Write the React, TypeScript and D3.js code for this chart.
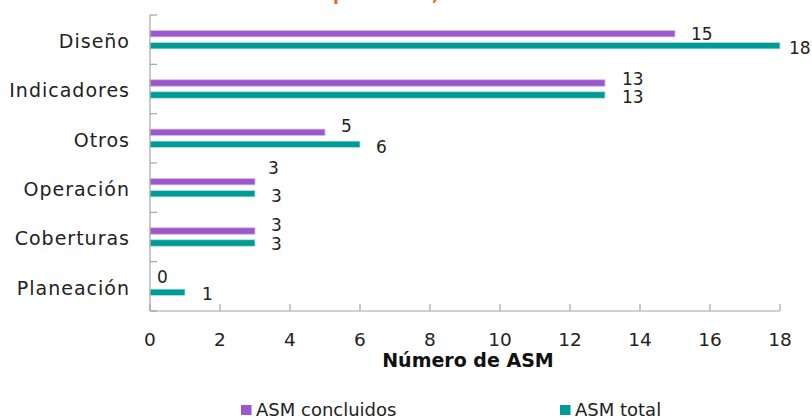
import React from "react";
import * as d3 from "d3";

const categories = ["Diseño", "Indicadores", "Otros", "Operación", "Coberturas", "Planeación"];
const concluidos = [15, 13, 5, 3, 3, 0];
const total = [18, 13, 6, 3, 3, 1];
const xTicks = [0, 2, 4, 6, 8, 10, 12, 14, 16, 18];
const seriesNames = ["ASM concluidos", "ASM total"];
const titleText = "Número de ASM por tema, 2016 - 2017";
const axisTitle = "Número de ASM";

// label nudges (layout only): [dx, dy] per category for each series
const nudgeConcl = [[17, 0], [18, -4.5], [17, -6], [14, -14], [17, -6], [8, -3]];
const nudgeTotal = [[10, 2], [18, 1.5], [17, 2.5], [17, 2], [17, 1], [18, 2]];

const W = 812, H = 418;
const FONT = "'DejaVu Sans', sans-serif";
const PURPLE = "#9B57CB";
const TEAL = "#009B95";
const AXIS = "#a6a6a6";

export default function App() {
  const x = d3.scaleLinear().domain([0, 18]).range([150, 780]);
  const y = d3.scaleBand<string>().domain(categories).range([15, 311]);
  const bw = y.bandwidth();
  const barH = 6.5;
  const off = 6;
  const boundaries = d3.range(categories.length + 1).map((i) => 15 + i * bw);

  return (
    <svg width={W} height={H} style={{ position: "absolute", left: 0, top: 0, background: "#fff" }} fontFamily={FONT}>
      <text x={365} y={-0.5} textAnchor="middle" fontSize={17} fontWeight="bold" fill="#E07020" letterSpacing={1.5}>{titleText}</text>
      {/* bars */}
      {categories.map((c, i) => {
        const cy = (y(c) as number) + bw / 2;
        return (
          <g key={c}>
            {concluidos[i] > 0 && (
              <rect x={x(0)} y={cy - off - barH / 2} width={x(concluidos[i]) - x(0)} height={barH} fill={PURPLE} stroke="#d6bfee" strokeWidth={0.8} />
            )}
            {total[i] > 0 && (
              <rect x={x(0)} y={cy + off - barH / 2} width={x(total[i]) - x(0)} height={barH} fill={TEAL} stroke="#b9e3e1" strokeWidth={0.8} />
            )}
            <text x={x(concluidos[i]) + nudgeConcl[i][0] - 1} y={cy - off + nudgeConcl[i][1]} dy="0.36em" fontSize={17} fill="#222">{concluidos[i]}</text>
            <text x={x(total[i]) + nudgeTotal[i][0] - 1} y={cy + off + nudgeTotal[i][1]} dy="0.36em" fontSize={17} fill="#222">{total[i]}</text>
            <text x={130} y={cy + 1.5} dy="0.36em" textAnchor="end" fontSize={19} fill="#222" letterSpacing={1}>{c}</text>
          </g>
        );
      })}
      {/* axes */}
      <line x1={150} x2={150} y1={15} y2={311} stroke={AXIS} strokeWidth={1.2} />
      <line x1={150} x2={780} y1={311} y2={311} stroke={AXIS} strokeWidth={1.2} />
      {boundaries.map((b, i) => (
        <line key={i} x1={150} x2={157} y1={b} y2={b} stroke={AXIS} strokeWidth={1.2} />
      ))}
      {xTicks.map((t) => (
        <g key={t}>
          <line x1={x(t)} x2={x(t)} y1={304} y2={311} stroke={AXIS} strokeWidth={1.2} />
          <text x={x(t)} y={339} dy="0.36em" textAnchor="middle" fontSize={18.5} fill="#222">{t}</text>
        </g>
      ))}
      <text x={468} y={366.5} textAnchor="middle" fontSize={19} fontWeight="bold" fill="#111">{axisTitle}</text>
      {/* legend */}
      <rect x={241} y={405} width={10.5} height={10} fill={PURPLE} />
      <text x={256} y={416} fontSize={18} fill="#222">{seriesNames[0]}</text>
      <rect x={560} y={405} width={10.5} height={10} fill={TEAL} />
      <text x={575} y={416} fontSize={18} fill="#222">{seriesNames[1]}</text>
    </svg>
  );
}
